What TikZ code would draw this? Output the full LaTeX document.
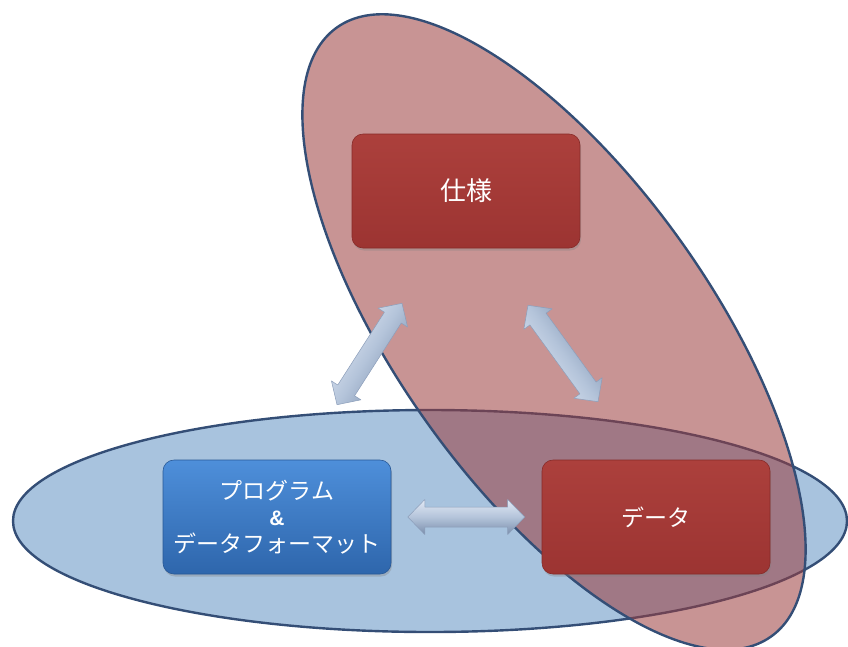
\documentclass[tikz,border=0pt]{standalone}
\usepackage{fontspec}
\newfontfamily\jp{Noto Sans CJK JP}
\newfontfamily\lat{Liberation Sans}
\usetikzlibrary{calc,shadows}
\definecolor{ellborder}{RGB}{52,78,118}
\definecolor{bluefill}{RGB}{168,195,222}
\definecolor{redfill}{RGB}{155,60,60}
\definecolor{redtop}{RGB}{172,64,60}
\definecolor{redbot}{RGB}{156,52,50}
\definecolor{rededge}{RGB}{135,42,40}
\definecolor{bluetop}{RGB}{78,143,218}
\definecolor{bluebot}{RGB}{46,102,172}
\definecolor{blueedge}{RGB}{40,88,150}
\definecolor{arrtop}{RGB}{226,233,245}
\definecolor{arrmid}{RGB}{180,196,218}
\definecolor{arrbot}{RGB}{122,142,172}
\definecolor{arredge}{RGB}{140,158,186}
\newcommand{\dblarrow}[3]{%
  \coordinate (h1) at ($(#1)!17pt!(#2)$);
  \coordinate (h2) at ($(#2)!17pt!(#1)$);
  \path[arrowshape, shading angle=#3]
    (#1) -- ($(h1)!17.5pt!90:(#2)$) -- ($(h1)!10pt!90:(#2)$)
    -- ($(h2)!10pt!-90:(#1)$) -- ($(h2)!17.5pt!-90:(#1)$) -- (#2)
    -- ($(h2)!17.5pt!90:(#1)$) -- ($(h2)!10pt!90:(#1)$)
    -- ($(h1)!10pt!-90:(#2)$) -- ($(h1)!17.5pt!-90:(#2)$) -- cycle;
}
\begin{document}
\begin{tikzpicture}[x=1pt,y=-1pt,
  ellline/.style={draw=ellborder, line width=2.4pt},
  boxbase/.style={rounded corners=11pt, minimum width=228pt, minimum height=114pt,
    inner sep=0pt, align=center, text=white,
    font=\jp\fontsize{23}{26.5}\selectfont,
    drop shadow={opacity=0.35, shadow xshift=1pt, shadow yshift=-2.5pt}},
  redbox/.style={boxbase, top color=redtop, bottom color=redbot, draw=rededge, line width=0.6pt},
  bluebox/.style={boxbase, top color=bluetop, bottom color=bluebot, draw=blueedge, line width=0.6pt},
  arrowshape/.style={top color=arrtop, bottom color=arrbot, middle color=arrmid, draw=arredge, line width=0.5pt, line join=round}
]
\useasboundingbox (0,0) rectangle (848,646);
% blue ellipse
\path[ellline, fill=bluefill] (430,521) ellipse [x radius=417pt, y radius=111pt];
% red ellipse (translucent)
\path[ellline, fill=redfill, fill opacity=0.55, shift={(554,332)}, rotate=-54.5]
  (0,0) ellipse [x radius=374pt, y radius=156pt];
% boxes
\node[redbox, font=\jp\fontsize{26}{30}\selectfont] (spec) at (466,191) {仕様};
\node[bluebox] (prog) at (277,517) {プログラム\\{\lat\bfseries\fontsize{21}{26.5}\selectfont \&}\\データフォーマット};
\node[redbox] (data) at (656,517) {データ};
% arrow ends
\coordinate (la) at ($(prog.north)+(60,-55)$);
\coordinate (lb) at ($(spec.south)+(-64,55)$);
\coordinate (ra) at ($(spec.south)+(62,57)$);
\coordinate (rb) at ($(data.north)+(-58,-58)$);
\coordinate (ha) at ($(prog.east)+(16.5,0)$);
\coordinate (hb) at ($(data.west)+(-17,0)$);
\dblarrow{la}{lb}{57.5}
\dblarrow{ra}{rb}{126}
\dblarrow{ha}{hb}{0}
\end{tikzpicture}
\end{document}
